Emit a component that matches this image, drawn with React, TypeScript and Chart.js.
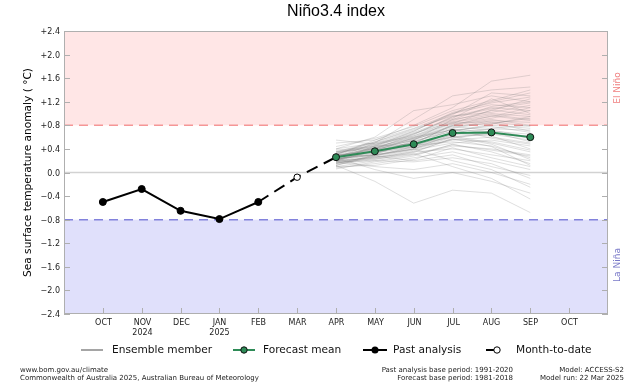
import React, { useEffect, useRef } from 'react';
import { Chart, registerables } from 'chart.js';

Chart.register(...registerables);

const MONTH_LABELS = ['OCT', 'NOV', 'DEC', 'JAN', 'FEB', 'MAR', 'APR', 'MAY', 'JUN', 'JUL', 'AUG', 'SEP', 'OCT'];
const YEAR_LABELS = ['', '2024', '', '2025', '', '', '', '', '', '', '', '', ''];
const MONTH_POS = [1, 2, 3, 4, 5, 6, 7, 8, 9, 10, 11, 12, 13];
const Y_TICKS = [2.4, 2.0, 1.6, 1.2, 0.8, 0.4, 0.0, -0.4, -0.8, -1.2, -1.6, -2.0, -2.4];

const PAST_X = [1, 2, 3, 4, 5];
const PAST_Y = [-0.5, -0.28, -0.65, -0.79, -0.5];
const MTD_X = [5, 6, 7];
const MTD_Y = [-0.5, -0.08, 0.26];
const FORECAST_X = [7, 8, 9, 10, 11, 12];
const FORECAST_Y = [0.26, 0.36, 0.48, 0.67, 0.68, 0.6];

const EL_NINO = 0.8;
const LA_NINA = -0.8;

// ensemble members: APR, MAY, JUN, JUL, AUG, SEP
const ENSEMBLE: number[][] = [
  [0.30, 0.55, 0.80, 1.10, 1.55, 1.65],
  [0.25, 0.50, 0.90, 1.30, 1.40, 1.45],
  [0.40, 0.60, 1.05, 1.15, 1.30, 1.20],
  [0.20, 0.45, 0.70, 1.00, 1.20, 1.35],
  [0.35, 0.40, 0.65, 0.95, 1.10, 1.05],
  [0.15, 0.30, 0.55, 0.90, 1.00, 0.95],
  [0.28, 0.42, 0.60, 0.85, 0.95, 1.10],
  [0.22, 0.38, 0.50, 0.80, 0.90, 0.80],
  [0.30, 0.35, 0.45, 0.75, 0.85, 0.70],
  [0.18, 0.32, 0.52, 0.70, 0.80, 0.75],
  [0.26, 0.40, 0.58, 0.78, 0.72, 0.60],
  [0.12, 0.28, 0.40, 0.65, 0.70, 0.65],
  [0.32, 0.45, 0.48, 0.60, 0.65, 0.55],
  [0.24, 0.30, 0.42, 0.55, 0.60, 0.50],
  [0.20, 0.26, 0.38, 0.50, 0.55, 0.45],
  [0.10, 0.20, 0.30, 0.45, 0.40, 0.30],
  [0.28, 0.34, 0.44, 0.62, 0.50, 0.35],
  [0.15, 0.25, 0.35, 0.40, 0.30, 0.20],
  [0.22, 0.36, 0.46, 0.52, 0.45, 0.25],
  [0.08, 0.15, 0.25, 0.35, 0.20, 0.05],
  [0.30, 0.28, 0.20, 0.30, 0.10, -0.05],
  [0.18, 0.10, 0.05, 0.15, 0.00, -0.20],
  [0.25, 0.05, -0.10, 0.00, -0.15, -0.35],
  [0.12, -0.15, -0.52, -0.30, -0.35, -0.68],
  [0.40, 0.50, 0.62, 0.88, 1.05, 1.25],
  [0.50, 0.55, 0.75, 1.00, 1.15, 1.10],
  [0.55, 0.48, 0.68, 0.92, 1.25, 1.00],
  [0.35, 0.52, 0.72, 0.98, 1.35, 1.30],
  [0.26, 0.44, 0.66, 0.86, 0.98, 0.90],
  [0.20, 0.38, 0.56, 0.76, 0.88, 0.85],
  [0.14, 0.22, 0.34, 0.58, 0.68, 0.58],
  [0.32, 0.48, 0.60, 0.72, 0.78, 0.68],
  [0.28, 0.40, 0.50, 0.66, 0.62, 0.40],
  [0.06, 0.18, 0.28, 0.48, 0.35, 0.15],
  [0.24, 0.30, 0.40, 0.20, 0.05, -0.25],
  [0.18, 0.26, 0.32, 0.10, -0.10, -0.45],
  [0.36, 0.42, 0.54, 0.70, 0.82, 0.95],
  [0.22, 0.34, 0.48, 0.82, 0.92, 1.05],
  [0.30, 0.46, 0.64, 0.94, 1.08, 1.18],
  [0.16, 0.28, 0.44, 0.68, 0.75, 0.80],
  [0.44, 0.58, 0.78, 1.05, 1.22, 1.40],
  [0.26, 0.36, 0.52, 0.74, 0.58, 0.48],
  [0.20, 0.24, 0.36, 0.56, 0.52, 0.38],
  [0.10, 0.12, 0.22, 0.42, 0.25, 0.10],
  [0.34, 0.50, 0.70, 1.02, 1.18, 1.28],
  [0.28, 0.38, 0.46, 0.64, 0.74, 0.72],
  [0.24, 0.42, 0.62, 0.84, 0.86, 0.78],
  [0.18, 0.20, 0.18, 0.25, 0.15, -0.10],
  [0.38, 0.44, 0.58, 0.80, 0.96, 0.88],
  [0.12, 0.30, 0.40, 0.60, 0.48, 0.22],
  [0.33, 0.47, 0.66, 0.90, 1.12, 1.20],
  [0.21, 0.33, 0.43, 0.61, 0.66, 0.62],
  [0.27, 0.39, 0.55, 0.79, 0.83, 0.92],
  [0.17, 0.23, 0.31, 0.47, 0.38, 0.28],
  [0.29, 0.41, 0.57, 0.73, 0.69, 0.52],
  [0.31, 0.52, 0.74, 0.96, 1.02, 1.14],
  [0.19, 0.37, 0.59, 0.83, 1.06, 0.98],
  [0.23, 0.29, 0.39, 0.57, 0.44, 0.12],
];

const FONT = "'DejaVu Sans', sans-serif";
const GREEN = '#2e8b57';

const fmtTick = (v: number) => {
  if (Math.abs(v) < 1e-9) return '0.0';
  return (v > 0 ? '+' : '\u2212') + Math.abs(v).toFixed(1);
};

const zip = (xs: number[], ys: number[]) => xs.map((x, i) => ({ x, y: ys[i] }));

const decorPlugin = {
  id: 'decor',
  beforeDatasetsDraw(chart: any) {
    const { ctx, chartArea: a, scales } = chart;
    const y = scales.y;
    ctx.save();
    ctx.fillStyle = 'rgb(255,230,230)';
    ctx.fillRect(a.left, y.getPixelForValue(2.4), a.right - a.left, y.getPixelForValue(EL_NINO) - y.getPixelForValue(2.4));
    ctx.fillStyle = 'rgb(224,224,251)';
    ctx.fillRect(a.left, y.getPixelForValue(LA_NINA), a.right - a.left, y.getPixelForValue(-2.4) - y.getPixelForValue(LA_NINA));
    // zero line
    ctx.strokeStyle = 'rgb(210,210,210)';
    ctx.lineWidth = 1.5;
    const y0 = y.getPixelForValue(0);
    ctx.beginPath();
    ctx.moveTo(a.left, y0);
    ctx.lineTo(a.right, y0);
    ctx.stroke();
    // thresholds
    ctx.setLineDash([9, 6]);
    ctx.lineWidth = 1.5;
    ctx.strokeStyle = 'rgb(245,150,150)';
    const ye = y.getPixelForValue(EL_NINO);
    ctx.beginPath();
    ctx.moveTo(a.left, ye);
    ctx.lineTo(a.right, ye);
    ctx.stroke();
    ctx.strokeStyle = 'rgb(130,130,220)';
    const yl = y.getPixelForValue(LA_NINA);
    ctx.beginPath();
    ctx.moveTo(a.left, yl);
    ctx.lineTo(a.right, yl);
    ctx.stroke();
    ctx.restore();
  },
  afterDraw(chart: any) {
    const { ctx, chartArea: a, scales } = chart;
    const xs = scales.x;
    const ys = scales.y;
    ctx.save();
    // frame
    ctx.strokeStyle = 'rgb(175,175,175)';
    ctx.lineWidth = 1;
    ctx.strokeRect(a.left + 0.5, a.top + 0.5, a.right - a.left - 1, a.bottom - a.top - 1);
    // y ticks
    ctx.fillStyle = '#222';
    ctx.font = `8px ${FONT}`;
    ctx.textAlign = 'right';
    ctx.textBaseline = 'middle';
    Y_TICKS.forEach((v) => {
      const py = Math.round(ys.getPixelForValue(v)) + 0.5;
      ctx.beginPath();
      ctx.moveTo(a.left, py);
      ctx.lineTo(a.left + 6, py);
      ctx.moveTo(a.right, py);
      ctx.lineTo(a.right - 6, py);
      ctx.stroke();
      ctx.fillText(fmtTick(v), a.left - 4, py);
    });
    // x ticks
    ctx.textAlign = 'center';
    ctx.textBaseline = 'middle';
    MONTH_POS.forEach((m, i) => {
      const px = Math.round(xs.getPixelForValue(m)) + 0.5;
      ctx.beginPath();
      ctx.moveTo(px, a.bottom);
      ctx.lineTo(px, a.bottom - 6);
      ctx.stroke();
      ctx.fillText(MONTH_LABELS[i], px, a.bottom + 9);
      if (YEAR_LABELS[i]) ctx.fillText(YEAR_LABELS[i], px, a.bottom + 19);
    });
    // title
    ctx.fillStyle = '#000';
    ctx.font = `16px 'Liberation Sans', Arial, sans-serif`;
    ctx.textAlign = 'center';
    ctx.textBaseline = 'middle';
    ctx.fillText('Ni\u00f1o3.4 index', (a.left + a.right) / 2, 12);
    // y title
    ctx.font = `10.6px ${FONT}`;
    ctx.save();
    ctx.translate(28, (a.top + a.bottom) / 2);
    ctx.rotate(-Math.PI / 2);
    ctx.fillText('Sea surface temperature anomaly ( \u00b0C)', 0, 0);
    ctx.restore();
    // side labels
    ctx.font = `9px ${FONT}`;
    ctx.save();
    ctx.translate(618, 88);
    ctx.rotate(-Math.PI / 2);
    ctx.fillStyle = 'rgb(240,128,128)';
    ctx.fillText('El Ni\u00f1o', 0, 0);
    ctx.restore();
    ctx.save();
    ctx.translate(618, 265);
    ctx.rotate(-Math.PI / 2);
    ctx.fillStyle = 'rgb(120,120,200)';
    ctx.fillText('La Ni\u00f1a', 0, 0);
    ctx.restore();
    // legend
    const ly = 350;
    ctx.lineWidth = 2;
    ctx.font = `10.6px ${FONT}`;
    ctx.textAlign = 'left';
    ctx.textBaseline = 'middle';
    ctx.fillStyle = '#111';
    ctx.strokeStyle = 'rgb(165,165,165)';
    ctx.beginPath(); ctx.moveTo(81, ly); ctx.lineTo(103, ly); ctx.stroke();
    ctx.fillText('Ensemble member', 112, ly);
    ctx.strokeStyle = GREEN;
    ctx.beginPath(); ctx.moveTo(233, ly); ctx.lineTo(255, ly); ctx.stroke();
    ctx.beginPath(); ctx.arc(244, ly, 3.2, 0, Math.PI * 2);
    ctx.fillStyle = GREEN; ctx.fill();
    ctx.lineWidth = 1; ctx.strokeStyle = '#111'; ctx.stroke();
    ctx.fillStyle = '#111';
    ctx.fillText('Forecast mean', 263, ly);
    ctx.lineWidth = 2;
    ctx.strokeStyle = '#000';
    ctx.beginPath(); ctx.moveTo(363, ly); ctx.lineTo(387, ly); ctx.stroke();
    ctx.beginPath(); ctx.arc(375, ly, 3.5, 0, Math.PI * 2); ctx.fillStyle = '#000'; ctx.fill();
    ctx.fillStyle = '#111';
    ctx.fillText('Past analysis', 393, ly);
    ctx.beginPath(); ctx.moveTo(486, ly); ctx.lineTo(494, ly); ctx.stroke();
    ctx.beginPath(); ctx.arc(497, ly, 3.2, 0, Math.PI * 2);
    ctx.fillStyle = '#fff'; ctx.fill(); ctx.lineWidth = 1; ctx.strokeStyle = '#000'; ctx.stroke();
    ctx.fillStyle = '#111';
    ctx.fillText('Month-to-date', 516, ly);
    // footer
    ctx.font = `7px ${FONT}`;
    ctx.fillStyle = '#222';
    ctx.textAlign = 'left';
    ctx.fillText('www.bom.gov.au/climate', 20, 370);
    ctx.fillText('Commonwealth of Australia 2025, Australian Bureau of Meteorology', 20, 378);
    ctx.textAlign = 'right';
    ctx.fillText('Past analysis base period: 1991-2020', 513, 370);
    ctx.fillText('Forecast base period: 1981-2018', 513, 378);
    ctx.fillText('Model: ACCESS-S2', 624, 370);
    ctx.fillText('Model run: 22 Mar 2025', 624, 378);
    ctx.restore();
  },
};

export default function App() {
  const ref = useRef<HTMLCanvasElement | null>(null);
  useEffect(() => {
    if (!ref.current) return;
    const ensembleSets = ENSEMBLE.map((m) => ({
      label: 'Ensemble member',
      data: zip(FORECAST_X, m),
      borderColor: 'rgba(120,120,120,0.24)',
      borderWidth: 1,
      pointRadius: 0,
      fill: false,
      tension: 0,
      order: 10,
    }));
    const chart = new Chart(ref.current, {
      type: 'line',
      data: {
        datasets: [
          {
            label: 'Forecast mean',
            data: zip(FORECAST_X, FORECAST_Y),
            borderColor: GREEN,
            borderWidth: 2,
            pointRadius: 3.5,
            pointBackgroundColor: GREEN,
            pointBorderColor: '#111',
            pointBorderWidth: 1,
            order: 1,
          },
          {
            label: 'Past analysis',
            data: zip(PAST_X, PAST_Y),
            borderColor: '#000',
            borderWidth: 2,
            pointRadius: 3.5,
            pointBackgroundColor: '#000',
            pointBorderColor: '#000',
            pointBorderWidth: 1,
            order: 2,
          },
          {
            label: 'Month-to-date',
            data: zip(MTD_X, MTD_Y),
            borderColor: '#000',
            borderWidth: 2,
            borderDash: [12, 7],
            pointRadius: [0, 3.2, 0],
            pointBackgroundColor: '#fff',
            pointBorderColor: '#000',
            pointBorderWidth: 1,
            order: 3,
          },
          ...ensembleSets,
        ] as any,
      },
      options: {
        animation: false,
        responsive: false,
        events: [],
        layout: { padding: { left: 64, right: 32, top: 31, bottom: 70 } },
        plugins: { legend: { display: false }, tooltip: { enabled: false }, title: { display: false } },
        scales: {
          x: { type: 'linear', min: 0, max: 14, display: false },
          y: { type: 'linear', min: -2.4, max: 2.4, display: false },
        },
      },
      plugins: [decorPlugin],
    });
    return () => chart.destroy();
  }, []);
  return (
    <div style={{ position: 'fixed', left: 0, top: 0, width: 640, height: 384, background: '#fff' }}>
      <canvas ref={ref} width={640} height={384} style={{ width: 640, height: 384, display: 'block' }} />
    </div>
  );
}
